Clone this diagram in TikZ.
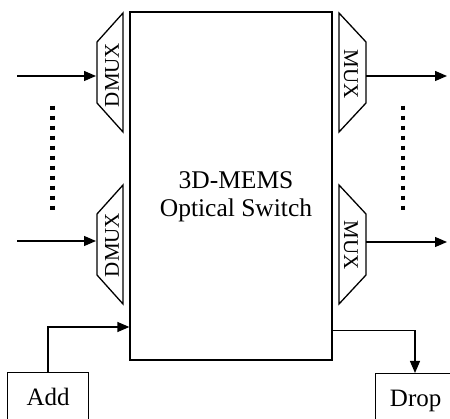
\documentclass[tikz,border=0pt]{standalone}
\usepackage{fontspec}
\setmainfont{Liberation Serif}
\usetikzlibrary{arrows.meta}
\tikzset{
  ln/.style={line width=1.3pt},
  arr/.style={ln, -{Triangle[length=12pt,width=10pt]}},
  dotline/.style={line width=4.5pt, dash pattern=on 4.5pt off 5.5pt},
  trap/.style={ln, line join=miter},
  lbl/.style={font=\fontsize{21}{21}\selectfont, inner sep=0pt},
  boxnode/.style={draw, ln, anchor=north west, minimum height=70pt, text height=17pt, text depth=21pt, inner sep=0pt, font=\fontsize{25}{25}\selectfont}
}
\begin{document}
\begin{tikzpicture}[x=1pt,y=-1pt]
\useasboundingbox (0,0) rectangle (450,419);
% main switch
\node[draw, ln, minimum width=202pt, minimum height=348pt, inner sep=0pt] (sw) at (231,186) {};
\node[font=\fontsize{25.5}{28.5}\selectfont, align=center, inner sep=0pt] (swlabel) at (236,197) {3D-MEMS\\Optical Switch};
% DMUX trapezoids
\draw[trap] (123,13) -- (97,42) -- (97,103) -- (123,132) -- cycle;
\draw[trap] (123,185) -- (97,214) -- (97,275) -- (123,304) -- cycle;
% MUX trapezoids
\draw[trap] (339,13) -- (366,42) -- (366,103) -- (339,132) -- cycle;
\draw[trap] (339,185) -- (366,214) -- (366,275) -- (339,304) -- cycle;
\node[lbl, rotate=90] (dmux1) at (112,75) {DMUX};
\node[lbl, rotate=90] (dmux2) at (112,245) {DMUX};
\node[lbl, rotate=-90] (mux1) at (351,74) {MUX};
\node[lbl, rotate=-90] (mux2) at (351,245) {MUX};
% connector end points
\coordinate (in1) at (17,76);
\coordinate (in1e) at (96,76);
\coordinate (in2) at (17,241);
\coordinate (in2e) at (96,241);
\coordinate (out1s) at (366,76);
\coordinate (out1) at (447,76);
\coordinate (out2s) at (366,242);
\coordinate (out2) at (447,242);
\draw[arr] (in1) -- (in1e);
\draw[arr] (in2) -- (in2e);
\draw[arr] (out1s) -- (out1);
\draw[arr] (out2s) -- (out2);
% dots
\coordinate (dl1) at (52.5,105.75);
\coordinate (dl2) at (52.5,210.25);
\coordinate (dr1) at (403,105.75);
\coordinate (dr2) at (403,210.25);
\draw[dotline] (dl1) -- (dl2);
\draw[dotline] (dr1) -- (dr2);
% add / drop
\node[boxnode, minimum width=81pt] (add) at (7,372) {Add};
\node[boxnode, minimum width=80pt] (drop) at (375,373) {Drop};
\draw[arr] (add.north -| 48,0) |- (sw.west |- 0,327);
\draw[arr] (sw.east |- 0,330.5) -| (drop.north -| 415,0);
\end{tikzpicture}
\end{document}
